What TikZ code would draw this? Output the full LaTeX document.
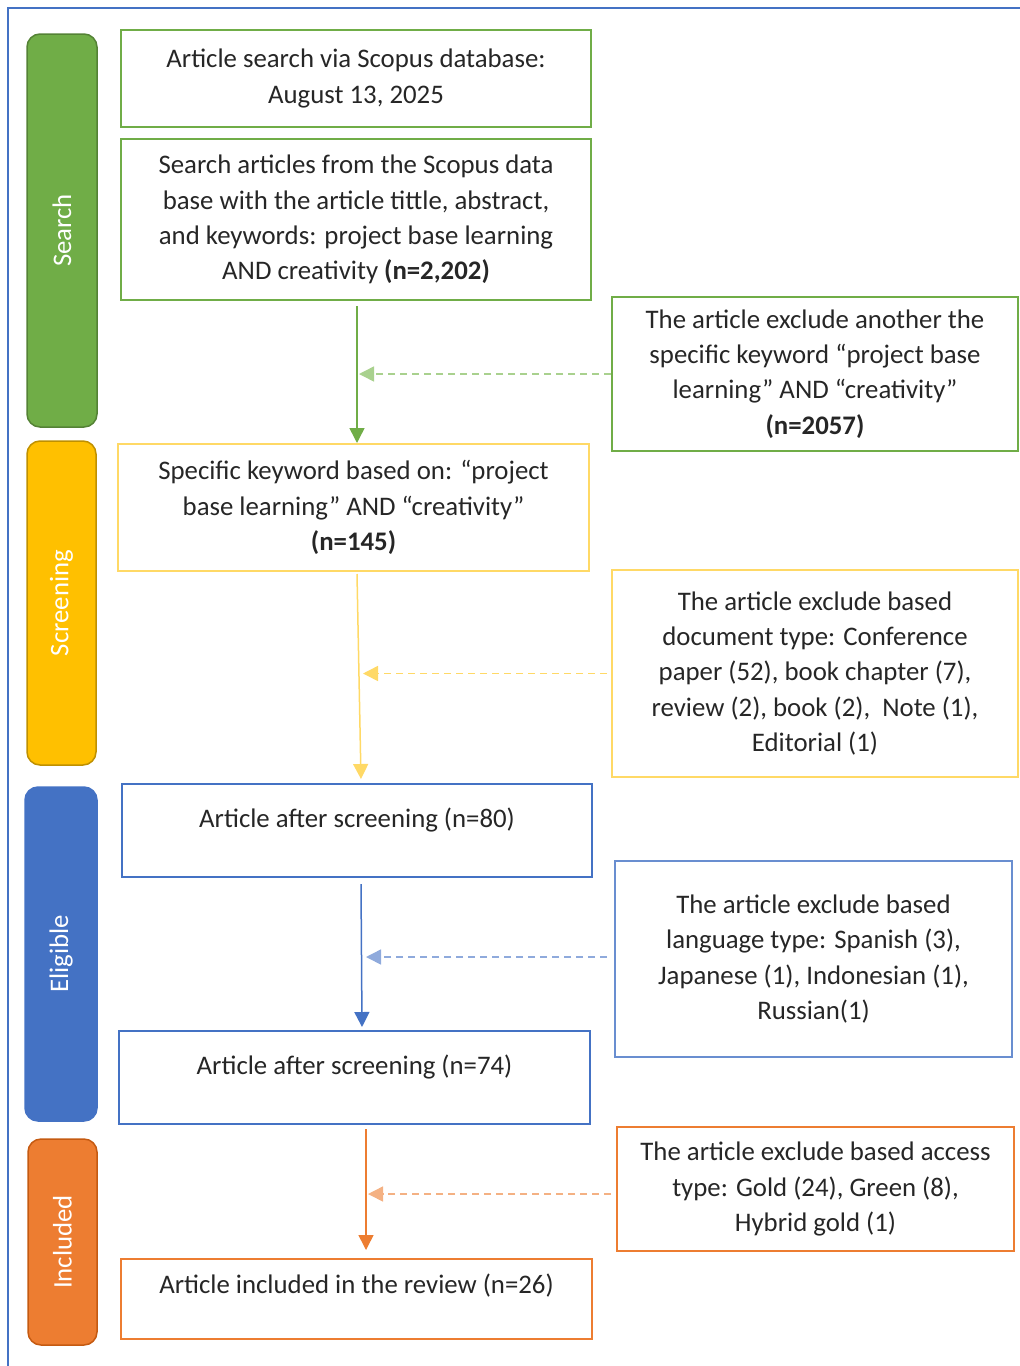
\documentclass[tikz,border=0pt]{standalone}
\usepackage{fontspec}
\setmainfont{Carlito}
\usetikzlibrary{arrows.meta,positioning}
\definecolor{searchGreen}{HTML}{70AD47}
\definecolor{searchDark}{HTML}{548235}
\definecolor{searchLight}{HTML}{A9D18E}
\definecolor{screenYellow}{HTML}{FFC000}
\definecolor{screenDark}{HTML}{BF9000}
\definecolor{screenLight}{HTML}{FFD966}
\definecolor{eligBlue}{HTML}{4472C4}
\definecolor{eligLight}{HTML}{8FAADC}
\definecolor{inclOrange}{HTML}{ED7D31}
\definecolor{inclDark}{HTML}{C55A11}
\definecolor{inclLight}{HTML}{F4B183}

\begin{document}
\begin{tikzpicture}[x=1pt,y=-1pt,font=\fontsize{26.8}{35.3}\selectfont]
	%defines
	\tikzstyle{phase} = [rectangle, rounded corners=13pt, rotate=90, text=white, line width=1.5pt, inner sep=0pt]
	\tikzstyle{stage} = [rectangle, line width=2pt, align=center, inner sep=0pt, text=black!85]
	\tikzstyle{exclude} = [stage]
	\tikzstyle{arrow} = [line width=1.5pt,-{Triangle[length=15pt,width=15pt]}]
	\tikzstyle{dashArrow} = [arrow, dash pattern=on 7pt off 5pt, shorten >=2pt]
	\useasboundingbox (0,0) rectangle (1020,1366);
	%frame
	\draw [eligBlue, line width=2pt] (1020,8) -- (8,8) -- (8,1366);
	%phases
	\node (search) [phase, fill=searchGreen, draw=searchDark, minimum width=393pt, minimum height=70pt] at (62,230.5) {Search};
	\node (screening) [phase, fill=screenYellow, draw=screenDark, minimum width=324pt, minimum height=69pt] at (61.5,603) {Screening};
	\node (eligible) [phase, fill=eligBlue, draw=eligBlue, minimum width=334pt, minimum height=72pt] at (61,954) {Eligible};
	\node (included) [phase, fill=inclOrange, draw=inclDark, minimum width=206pt, minimum height=69pt] at (62.5,1242) {Included};
	%chart
	\node (scopus) [stage, draw=searchGreen, minimum width=470pt, minimum height=97pt] at (356,78.5) {Article search via Scopus database:\\August 13, 2025};
	\node (query) [stage, draw=searchGreen, minimum width=470pt, minimum height=161pt] at (356,219.5) {Search articles from the Scopus data\\base with the article tittle, abstract,\\and keywords: project base learning\\AND creativity \textbf{(n=2,202)}};
	\node (keyword) [stage, draw=screenLight, minimum width=471pt, minimum height=127pt] at (353.5,507.5) {Specific keyword based on: “project\\base learning” AND “creativity”\\\textbf{(n=145)}};
	\node (screened) [stage, draw=eligBlue, minimum width=470pt, minimum height=93pt, text depth=26pt] at (357,830.5) {Article after screening (n=80)};
	\node (eligibleSet) [stage, draw=eligBlue, minimum width=471pt, minimum height=93pt, text depth=26pt] at (354.5,1077.5) {Article after screening (n=74)};
	\node (review) [stage, draw=inclOrange, minimum width=471pt, minimum height=80pt, text depth=30pt] at (356.5,1299) {Article included in the review (n=26)};
	\node (exclKeyword) [exclude, draw=searchGreen, minimum width=406pt, minimum height=154pt] at (815,374) {The article exclude another the\\specific keyword “project base\\learning” AND “creativity”\\\textbf{(n=2057)}};
	\node (exclDocument) [exclude, draw=screenLight, minimum width=406pt, minimum height=207pt] at (815,673.5) {The article exclude based\\document type: Conference\\paper (52), book chapter (7),\\review (2), book (2),~ Note (1),\\Editorial (1)};
	\node (exclLanguage) [exclude, draw=eligBlue!80, minimum width=397pt, minimum height=196pt] at (813.5,959) {The article exclude based\\language type: Spanish (3),\\Japanese (1), Indonesian (1),\\Russian(1)};
	\node (exclAccess) [exclude, draw=inclOrange, minimum width=397pt, minimum height=124pt] at (815.5,1189) {The article exclude based access\\type: Gold (24), Green (8),\\Hybrid gold (1)};
	%flow
	\coordinate (greenTop) at ([xshift=1pt,yshift=-5pt]query.south);
	\coordinate (yellowTop) at ([xshift=3.5pt,yshift=-2pt]keyword.south);
	\coordinate (blueTop) at ([xshift=4pt,yshift=-6pt]screened.south);
	\coordinate (orangeTop) at ([xshift=11.5pt,yshift=-4pt]eligibleSet.south);
	\draw [arrow, searchGreen] (greenTop) -- ([xshift=3.5pt]keyword.north);
	\draw [arrow, screenLight] (yellowTop) -- ([xshift=4pt,yshift=4pt]screened.north);
	\draw [arrow, eligBlue] (blueTop) -- ([xshift=7.5pt,yshift=3pt]eligibleSet.north);
	\draw [arrow, inclOrange] (orangeTop) -- ([xshift=9.5pt,yshift=8pt]review.north);
	\draw [dashArrow, searchLight] (exclKeyword.west) -- (exclKeyword.west -| greenTop);
	\draw [dashArrow, screenLight] ([xshift=-4pt]exclDocument.west) -- ([xshift=4pt]exclDocument.west -| yellowTop);
	\draw [dashArrow, eligLight] ([xshift=-7pt,yshift=2pt]exclLanguage.west) -- ([xshift=3pt,yshift=2pt]exclLanguage.west -| blueTop);
	\draw [dashArrow, inclLight] ([xshift=-5pt,yshift=-5pt]exclAccess.west) -- ([yshift=-5pt]exclAccess.west -| orangeTop);
\end{tikzpicture}
\end{document}
